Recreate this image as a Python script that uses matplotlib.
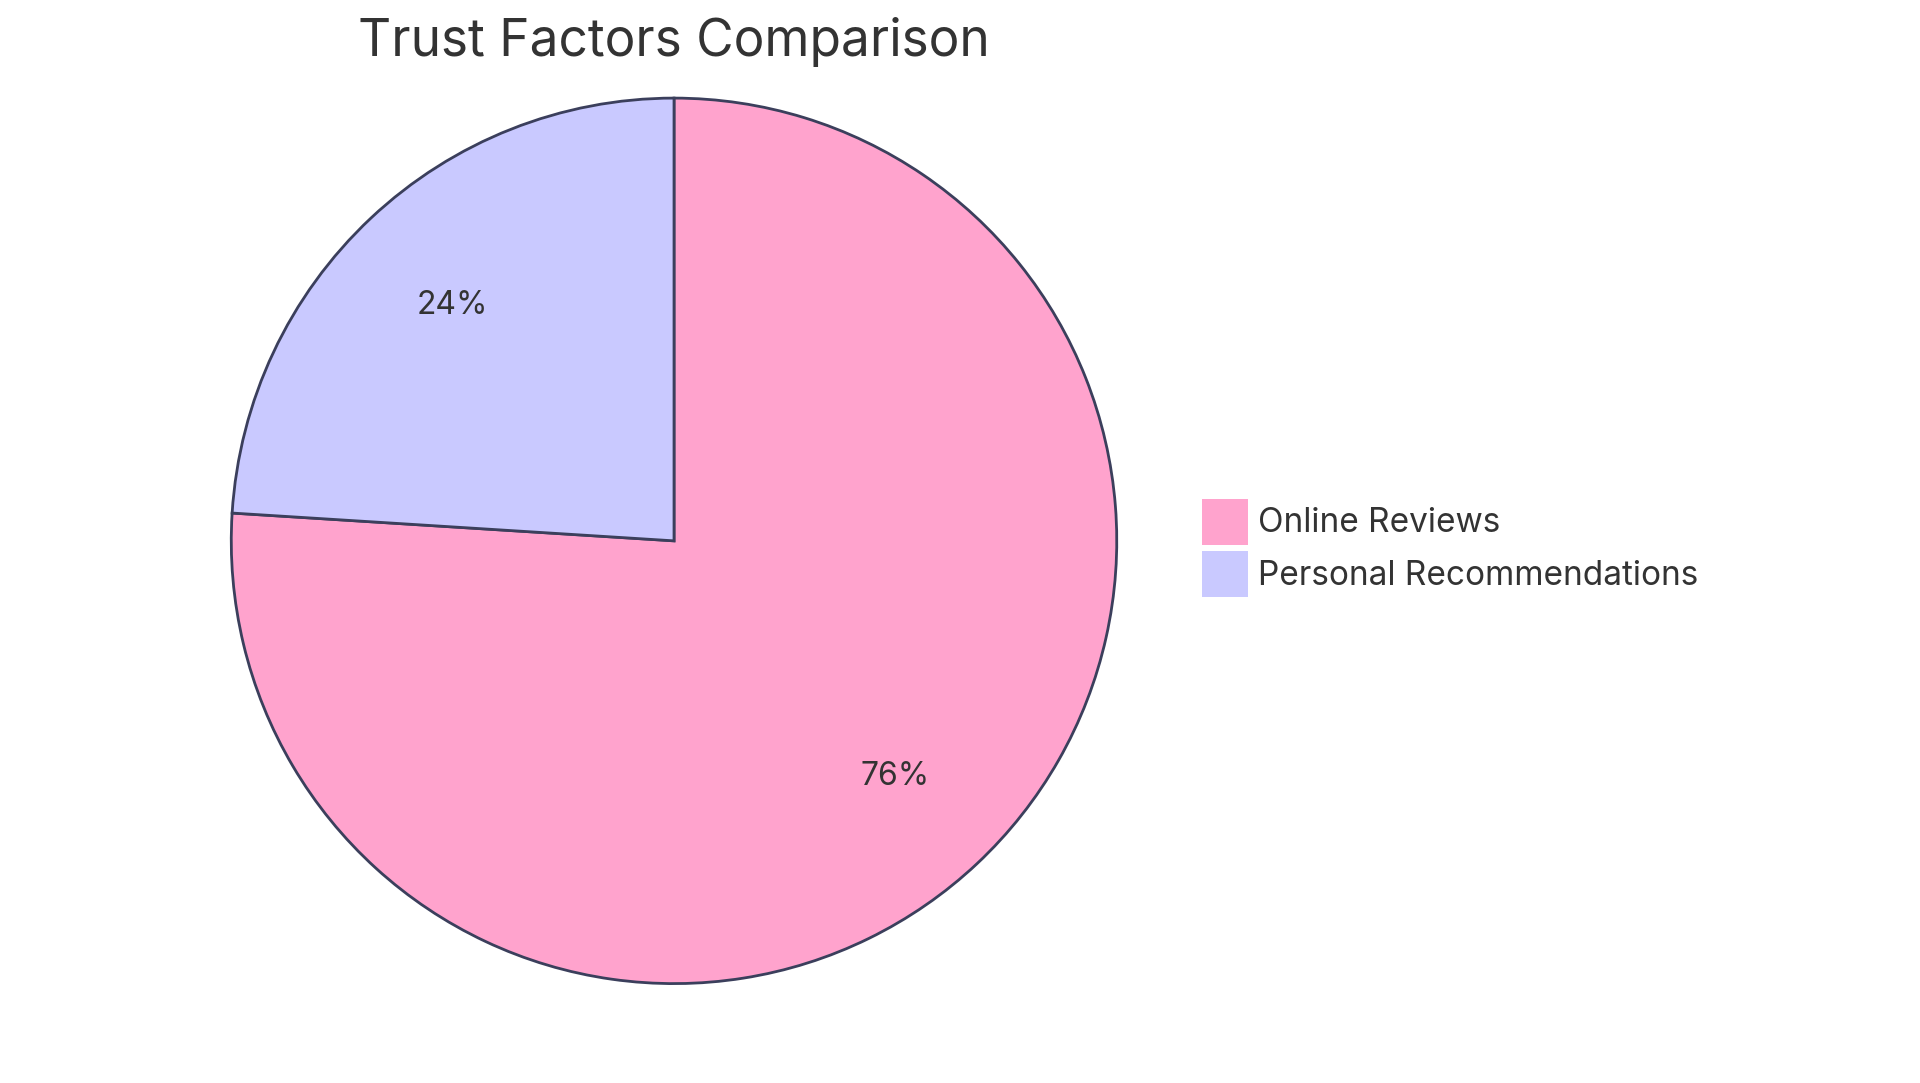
import matplotlib.pyplot as plt

labels = ["Online Reviews", "Personal Recommendations"]
values = [76, 24]
colors = ["#FFA3CD", "#C9C9FF"]

plt.rcParams["font.family"] = ["Inter", "DejaVu Sans"]
text_color = "#333333"
edge = "#3B3F5C"

fig = plt.figure(figsize=(19.2, 10.83), dpi=100)
ax = fig.add_axes([0.1193, 0.0896, 0.4635, 0.822])
wedges, _, autotexts = ax.pie(
    values, colors=colors, startangle=90, counterclock=False,
    autopct="%d%%", pctdistance=0.73,
    wedgeprops=dict(edgecolor=edge, linewidth=2),
    textprops=dict(fontsize=23, color=text_color),
)
ax.set_xlim(-1.005, 1.005)
ax.set_ylim(-1.005, 1.005)
ax.set_aspect("equal")

fig.text(0.351, 0.961, "Trust Factors Comparison", ha="center", va="center",
         fontsize=37, color=text_color)

fig.legend(wedges, labels, loc="upper left", bbox_to_anchor=(0.619, 0.552),
           frameon=False, fontsize=24, labelcolor=text_color,
           handlelength=1.4, handleheight=1.75, handletextpad=0.3,
           labelspacing=0.2, borderaxespad=0)
for h in fig.legends[0].legend_handles:
    h.set_edgecolor("none")

fig.savefig("out.png", dpi=100)
